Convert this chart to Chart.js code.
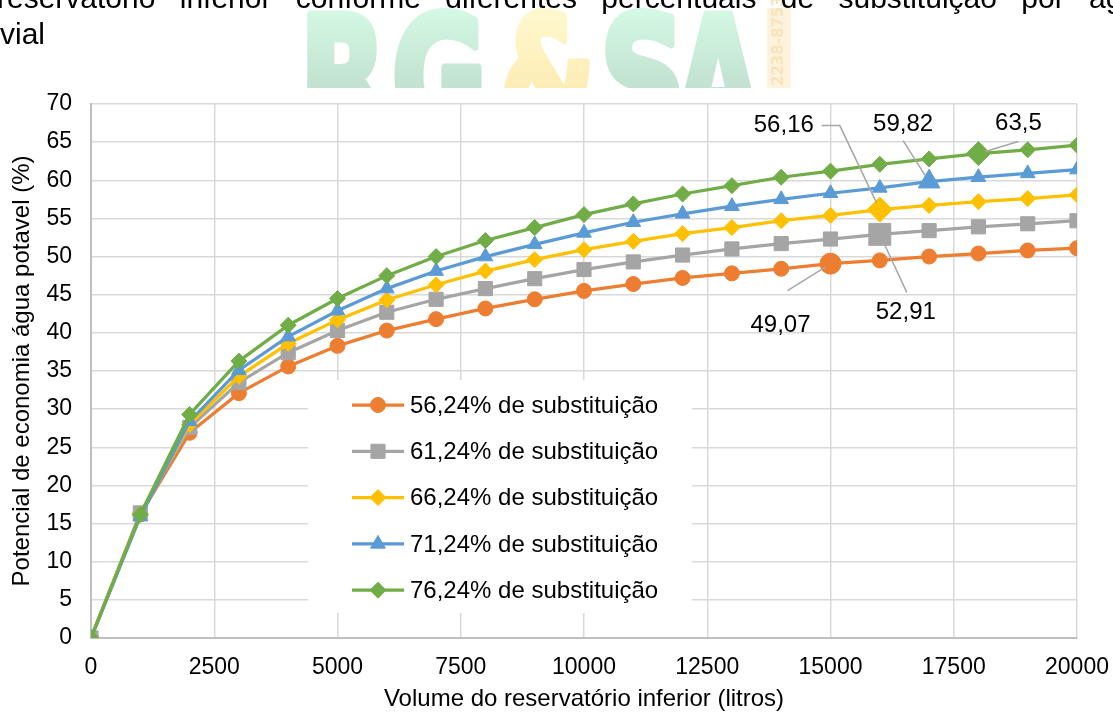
<!DOCTYPE html>
<html>
<head>
<meta charset="utf-8">
<script src="https://cdn.jsdelivr.net/npm/chart.js@4.4.1/dist/chart.umd.min.js"></script>
<style>
  html, body { margin: 0; padding: 0; background: #fff; width: 1113px; height: 713px; overflow: hidden; }
  #page { position: absolute; left: 0; top: 0; }
  #chartBox { position: absolute; left: 0; top: 88px; width: 1113px; height: 625px; }
</style>
</head>
<body>
<canvas id="page" width="1113" height="713"></canvas>
<div id="chartBox"><canvas id="chart" width="1113" height="625"></canvas></div>
<script>
// Volume of the lower reservoir (litres)
const volumes = [0, 1000, 2000, 3000, 4000, 5000, 6000, 7000, 8000, 9000, 10000,
                 11000, 12000, 13000, 14000, 15000, 16000, 17000, 18000, 19000, 20000];

const seriesNames = [
  '56,24% de substituição',
  '61,24% de substituição',
  '66,24% de substituição',
  '71,24% de substituição',
  '76,24% de substituição'
];

// Potable water saving potential (%) for each substitution rate
const saving5624 = [0, 16.2, 26.9, 32.1, 35.6, 38.3, 40.3, 41.8, 43.2, 44.4, 45.5,
                    46.4, 47.2, 47.8, 48.4, 49.07, 49.5, 50.0, 50.4, 50.8, 51.1];
const saving6124 = [0, 16.4, 27.6, 33.5, 37.4, 40.3, 42.7, 44.4, 45.8, 47.1, 48.3,
                    49.3, 50.2, 51.0, 51.7, 52.3, 52.91, 53.4, 53.9, 54.3, 54.7];
const saving6624 = [0, 16.2, 28.0, 34.3, 38.6, 41.7, 44.3, 46.3, 48.1, 49.6, 50.9,
                    52.0, 53.0, 53.8, 54.7, 55.4, 56.16, 56.7, 57.2, 57.6, 58.1];
const saving7124 = [0, 15.9, 28.4, 35.1, 39.5, 42.9, 45.8, 48.1, 50.0, 51.6, 53.1,
                    54.5, 55.6, 56.6, 57.5, 58.3, 59.0, 59.82, 60.4, 60.9, 61.4];
const saving7624 = [0, 16.2, 29.3, 36.3, 41.0, 44.5, 47.5, 50.0, 52.1, 53.8, 55.5,
                    56.9, 58.2, 59.3, 60.4, 61.2, 62.1, 62.8, 63.5, 64.0, 64.6];

const xTickValues = [0, 2500, 5000, 7500, 10000, 12500, 15000, 17500, 20000];
const yTickValues = [0, 5, 10, 15, 20, 25, 30, 35, 40, 45, 50, 55, 60, 65, 70];

// Points that carry a value label: [series index, volume]
const labelledPoints = [[0, 15000], [1, 16000], [2, 16000], [3, 17000], [4, 18000]];

const allSeries = [saving5624, saving6124, saving6624, saving7124, saving7624];

/* ---------- page header and logo ---------- */
(function drawPage() {
  const c = document.getElementById('page').getContext('2d');
  c.fillStyle = '#fff';
  c.fillRect(0, 0, 1113, 713);

  // logo letters
  const logoFont = 'bold 165px "DejaVu Sans", sans-serif';
  const baseY = 136;
  function letter(ch, x, sx, top, bottom) {
    c.save();
    c.translate(x, baseY);
    c.scale(sx, 1);
    const g = c.createLinearGradient(0, -125, 0, -50);
    g.addColorStop(0, top);
    g.addColorStop(1, bottom);
    c.fillStyle = g;
    c.strokeStyle = g;
    c.lineWidth = 9;
    c.lineJoin = 'round';
    c.font = logoFont;
    c.textBaseline = 'alphabetic';
    c.strokeText(ch, 0, 0);
    c.fillText(ch, 0, 0);
    c.restore();
  }
  const gTop = '#d3f8e3', gBot = '#c3e2d1';
  letter('R', 300, 0.68, gTop, gBot);
  letter('G', 392, 0.70, gTop, gBot);
  letter('&', 500, 0.66, '#fff8cf', '#fdedb5');
  letter('S', 600, 0.72, gTop, gBot);
  letter('A', 676, 0.66, gTop, gBot);
  // ISSN strip
  c.fillStyle = '#fdf3dc';
  c.fillRect(767, 8, 24, 90);
  c.save();
  c.translate(779, 86);
  c.rotate(-Math.PI / 2);
  c.fillStyle = '#f8e3bb';
  c.font = 'bold 15px "DejaVu Sans", sans-serif';
  c.textBaseline = 'middle';
  c.fillText('2238-8753', 0, 0);
  c.restore();

  // justified text lines above the figure
  c.fillStyle = '#000';
  c.font = '30px "Liberation Sans", Arial, sans-serif';
  c.textBaseline = 'alphabetic';
  const words = ['reservatório', 'inferior', 'conforme', 'diferentes', 'percentuais',
                 'de', 'substituição', 'por', 'água'];
  const startX = -3, lastX = 1089;
  let used = 0;
  for (let i = 0; i < words.length - 1; i++) used += c.measureText(words[i]).width;
  const gap = (lastX - startX - used) / (words.length - 1);
  let x = startX;
  words.forEach(w => { c.fillText(w, x, 8); x += c.measureText(w).width + gap; });
  c.fillText('vial', 0, 44);
})();

/* ---------- chart ---------- */
const colors = ['#ED7D31', '#A5A5A5', '#FFC000', '#5B9BD5', '#70AD47'];
const styles = ['circle', 'rect', 'rectRot', 'triangle', 'rectRot'];
const radius = [7.5, 10, 8, 8.5, 8];
const bigRadius = [10.5, 15.5, 12.5, 12.5, 12];

function highlightIndex(s) {
  const hit = labelledPoints.find(p => p[0] === s);
  return hit ? volumes.indexOf(hit[1]) : -1;
}

const datasets = allSeries.map((vals, s) => ({
  label: seriesNames[s],
  data: volumes.map((v, i) => ({ x: v, y: vals[i] })),
  borderColor: colors[s],
  backgroundColor: colors[s],
  pointBackgroundColor: colors[s],
  pointBorderColor: colors[s],
  pointBorderWidth: 1,
  borderWidth: 3.25,
  pointStyle: styles[s],
  pointRadius: ctx => ctx.dataIndex === highlightIndex(s) ? bigRadius[s] : radius[s],
  pointHoverRadius: ctx => ctx.dataIndex === highlightIndex(s) ? bigRadius[s] : radius[s],
  tension: 0,
  order: allSeries.length - s
}));

function marker(ctx, style, x, y, r, color) {
  ctx.save();
  ctx.fillStyle = color;
  ctx.strokeStyle = color;
  ctx.lineWidth = 1;
  ctx.beginPath();
  if (style === 'circle') {
    ctx.arc(x, y, r, 0, Math.PI * 2);
  } else if (style === 'rect') {
    const h = Math.SQRT1_2 * r;
    ctx.rect(x - h, y - h, 2 * h, 2 * h);
  } else if (style === 'rectRot') {
    ctx.moveTo(x, y - r); ctx.lineTo(x + r, y); ctx.lineTo(x, y + r); ctx.lineTo(x - r, y);
    ctx.closePath();
  } else if (style === 'triangle') {
    let a = 0;
    ctx.moveTo(x + Math.sin(a) * r, y - Math.cos(a) * r);
    a += 2 * Math.PI / 3;
    ctx.lineTo(x + Math.sin(a) * r, y - Math.cos(a) * r);
    a += 2 * Math.PI / 3;
    ctx.lineTo(x + Math.sin(a) * r, y - Math.cos(a) * r);
    ctx.closePath();
  }
  ctx.fill();
  ctx.stroke();
  ctx.restore();
}

const font = '"Liberation Sans", Arial, sans-serif';

const whiteBackground = {
  id: 'whiteBackground',
  beforeDraw(chart) {
    const c = chart.ctx;
    c.save();
    c.fillStyle = '#fff';
    c.fillRect(0, 0, chart.width, chart.height);
    c.restore();
  }
};

// Legend box inside the plot area
const insideLegend = {
  id: 'insideLegend',
  beforeDatasetsDraw(chart) {
    const c = chart.ctx, a = chart.chartArea;
    const bx = a.left + 217, by = a.top + 276;
    c.save();
    c.fillStyle = '#fff';
    c.fillRect(bx, by, 384, 233);
    c.font = '24px ' + font;
    c.textBaseline = 'middle';
    c.textAlign = 'left';
    chart.data.datasets.forEach((ds, s) => {
      const y = a.top + 301 + s * 46.3;
      const x0 = a.left + 261, x1 = a.left + 313;
      c.strokeStyle = colors[s];
      c.lineWidth = 3.25;
      c.beginPath();
      c.moveTo(x0, y);
      c.lineTo(x1, y);
      c.stroke();
      marker(c, styles[s], (x0 + x1) / 2, y, radius[s], colors[s]);
      c.fillStyle = '#000';
      c.fillText(ds.label, a.left + 319, y + 1);
    });
    c.restore();
  }
};

// Value labels with leader lines: text offset and leader path relative to the point
const labelLayout = [
  { text: [-50, 62], path: [[-43, 27]] },
  { text: [26, 78], path: [[27, 58]] },
  { text: [-96, -84], path: [[-58, -84], [-40, -84]] },
  { text: [-26, -57], path: [[-26, -41]] },
  { text: [40, -30], path: [[40, -12]] }
];

const valueLabels = {
  id: 'valueLabels',
  afterDatasetsDraw(chart) {
    const c = chart.ctx;
    c.save();
    labelledPoints.forEach((p, k) => {
      const s = p[0];
      const idx = volumes.indexOf(p[1]);
      const val = allSeries[s][idx];
      const px = chart.scales.x.getPixelForValue(p[1]);
      const py = chart.scales.y.getPixelForValue(val);
      const lay = labelLayout[k];
      // leader line
      c.strokeStyle = '#A6A6A6';
      c.lineWidth = 1.5;
      c.beginPath();
      const pts = lay.path.map(q => [px + q[0], py + q[1]]);
      c.moveTo(pts[0][0], pts[0][1]);
      for (let i = 1; i < pts.length; i++) c.lineTo(pts[i][0], pts[i][1]);
      const last = pts[pts.length - 1];
      const dx = px - last[0], dy = py - last[1];
      const d = Math.hypot(dx, dy);
      const stop = bigRadius[s] * 0.6;
      c.lineTo(px - dx / d * stop, py - dy / d * stop);
      c.stroke();
      // text
      c.fillStyle = '#000';
      c.font = '24px ' + font;
      c.textAlign = 'center';
      c.textBaseline = 'middle';
      c.fillText(String(val).replace('.', ','), px + lay.text[0], py + lay.text[1]);
    });
    c.restore();
  }
};

new Chart(document.getElementById('chart'), {
  type: 'line',
  data: { datasets },
  options: {
    responsive: false,
    animation: false,
    devicePixelRatio: 1,
    layout: { padding: { top: 16, right: 36, left: 0, bottom: 0 } },
    plugins: {
      legend: { display: false },
      tooltip: { enabled: false }
    },
    scales: {
      x: {
        type: 'linear',
        min: 0,
        max: 20000,
        afterBuildTicks: sc => { sc.ticks = xTickValues.map(v => ({ value: v })); },
        afterFit: sc => { sc.height = 75; sc.paddingLeft = 0; sc.paddingRight = 0; },
        ticks: {
          color: '#000', font: { family: font, size: 23 }, padding: 16, maxRotation: 0, autoSkip: false,
          callback: v => String(v)
        },
        grid: { color: '#D9D9D9', lineWidth: 1.5, drawTicks: false },
        border: { color: '#BFBFBF', width: 2 },
        title: {
          display: true,
          text: 'Volume do reservatório inferior (litros)',
          color: '#000',
          font: { family: font, size: 24, lineHeight: 1.1 },
          padding: { top: 0, bottom: 0 }
        }
      },
      y: {
        min: 0,
        max: 70,
        afterBuildTicks: sc => { sc.ticks = yTickValues.map(v => ({ value: v })); },
        afterFit: sc => { sc.width = 91; sc.paddingTop = 0; sc.paddingBottom = 0; },
        ticks: { color: '#000', font: { family: font, size: 23 }, padding: 19, autoSkip: false,
          callback: v => String(v) },
        grid: { color: '#D9D9D9', lineWidth: 1.5, drawTicks: false },
        border: { color: '#BFBFBF', width: 2 },
        title: {
          display: true,
          text: 'Potencial de economia água potavel (%)',
          color: '#000',
          font: { family: font, size: 24, lineHeight: 1.2 },
          padding: { top: 8, bottom: 0 }
        }
      }
    }
  },
  plugins: [whiteBackground, insideLegend, valueLabels]
});
</script>
</body>
</html>
